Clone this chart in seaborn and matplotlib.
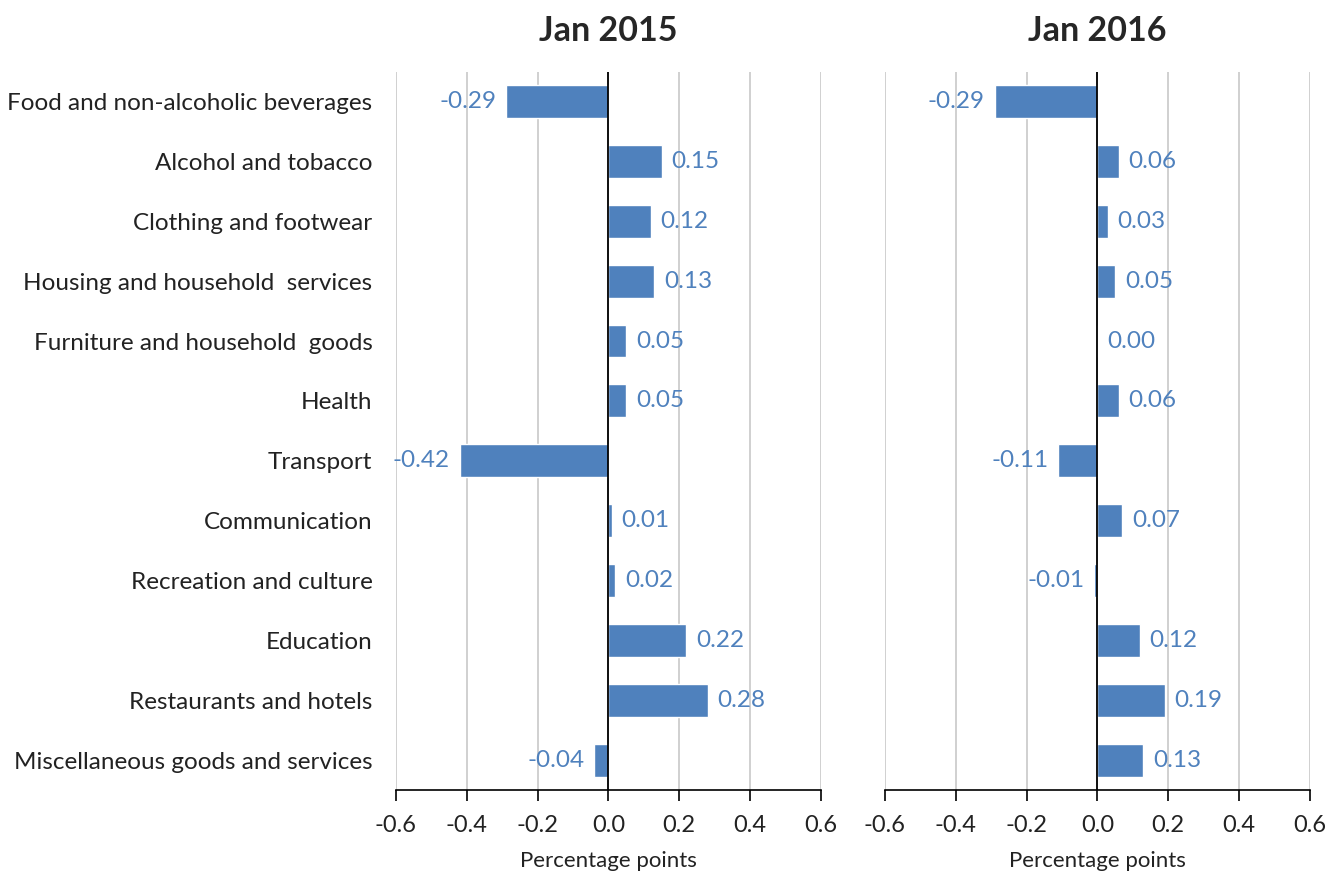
import matplotlib
matplotlib.use("Agg")
import matplotlib.pyplot as plt
import seaborn as sns
import pandas as pd

categories = ["Food and non-alcoholic beverages", "Alcohol and tobacco", "Clothing and footwear",
              "Housing and household  services", "Furniture and household  goods", "Health",
              "Transport", "Communication", "Recreation and culture", "Education",
              "Restaurants and hotels", "Miscellaneous goods and services"]
jan2015 = [-0.29, 0.15, 0.12, 0.13, 0.05, 0.05, -0.42, 0.01, 0.02, 0.22, 0.28, -0.04]
jan2016 = [-0.29, 0.06, 0.03, 0.05, 0.00, 0.06, -0.11, 0.07, -0.01, 0.12, 0.19, 0.13]
titles = ["Jan 2015", "Jan 2016"]
xticks = [-0.6, -0.4, -0.2, 0.0, 0.2, 0.4, 0.6]

sns.set_theme(style="white")
plt.rcParams['font.family'] = ['Lato', 'DejaVu Sans']

blue = "#4F81BD"
fig = plt.figure(figsize=(13.36, 8.76), dpi=100)
ax1 = fig.add_axes([0.2964, 0.0982, 0.318, 0.82])
ax2 = fig.add_axes([0.6624, 0.0982, 0.318, 0.82])

for ax, vals, title, show_y in [(ax1, jan2015, titles[0], True), (ax2, jan2016, titles[1], False)]:
    df = pd.DataFrame({"cat": categories, "val": vals})
    sns.barplot(data=df, x="val", y="cat", ax=ax, color=blue, saturation=1, width=0.55, orient="h")
    ax.set_xlim(-0.6, 0.6)
    ax.set_ylim(11.5, -0.5)
    ax.set_xticks(xticks)
    ax.set_xticklabels([f"{t:.1f}" for t in xticks], fontsize=17, color="#222222")
    ax.set_xlabel("Percentage points", fontsize=16, color="#222222", labelpad=11)
    ax.set_ylabel("")
    ax.set_title(title, fontsize=24.5, fontweight="bold", pad=22)
    for spine in ["top", "right", "left"]:
        ax.spines[spine].set_visible(False)
    ax.spines["bottom"].set_color("black")
    ax.spines["bottom"].set_linewidth(1.2)
    ax.tick_params(axis="x", direction="out", length=8, width=1.2, color="black", bottom=True, pad=10)
    ax.tick_params(axis="y", length=0, pad=17)
    ax.grid(axis="x", color="#C8C8C8", linewidth=1.2)
    ax.set_axisbelow(True)
    ax.axvline(0, color="black", linewidth=1.3, zorder=3)
    ax.bar_label(ax.containers[0], fmt="%.2f", padding=7, color=blue, fontsize=17.5)
    if show_y:
        ax.set_yticks(range(len(categories)))
        ax.set_yticklabels(categories, fontsize=17.5, color="#222222")
    else:
        ax.set_yticklabels([])

fig.savefig("out.png", dpi=100, facecolor="white")
